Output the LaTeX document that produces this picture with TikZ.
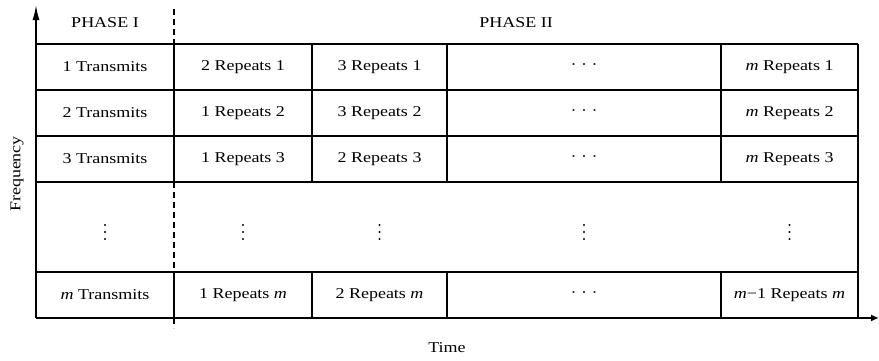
\documentclass[tikz,border=0pt]{standalone}
\usepackage{fontspec}
\setmainfont[FakeStretch=1.2]{Liberation Serif}
\usetikzlibrary{arrows.meta}
\newcommand{\mi}{\textit{m}}
\newcommand{\hd}{·~·~·}
\begin{document}
\begin{tikzpicture}[x=1pt,y=1pt,
  cell/.style={font=\fontsize{15}{18}\selectfont, inner sep=0pt, anchor=center},
  grid/.style={line width=1.1pt},
  axis/.style={line width=1.6pt},
  phase/.style={line width=1.6pt, dash pattern=on 6pt off 4pt}]
\useasboundingbox (0,0) rectangle (879,360);
% boundaries: x 36,174,312,447,721,858 ; y 316,270,224,178,88,42
\coordinate (o) at (36,42);
\coordinate (ytip) at (36,355);
\coordinate (xtip) at (879,42);
% grid
\draw[grid] (36,316) -- (858,316);
\draw[grid] (36,270) -- (858,270);
\draw[grid] (36,224) -- (858,224);
\draw[grid] (36,178) -- (858,178);
\draw[grid] (36,88) -- (858,88);
\draw[grid] (858,42) -- (858,316);
\foreach \x in {312,447,721}{
  \draw[grid] (\x,316) -- (\x,178);
  \draw[grid] (\x,88) -- (\x,42);
}
\draw[grid] (174,316) -- (174,178);
\draw[grid] (174,88) -- (174,42);
\draw[phase] (174,351) -- (174,316);
\draw[phase] (174,178) -- (174,88);
\draw[phase] (174,42) -- (174,32);
% axes
\draw[axis, -{Latex[length=15pt,width=7pt]}] (o) -- (ytip);
\draw[axis, -{Latex[length=8pt,width=7pt]}] (o) -- (xtip);
% headers
\node[cell] (p1) at (105,337) {PHASE I};
\node[cell] (p2) at (516,337) {PHASE II};
\node[cell, rotate=90] (freq) at (17,186) {Frequency};
\node[cell] (time) at (447,12) {Time};
% row 1
\node[cell] (a1) at (105,293) {1 Transmits};
\node[cell] (b1) at (243,293) {2 Repeats 1};
\node[cell] (c1) at (379.5,293) {3 Repeats 1};
\node[cell] (d1) at (584,293) {\hd};
\node[cell] (e1) at (789.5,293) {\mi{} Repeats 1};
% row 2
\node[cell] (a2) at (105,247) {2 Transmits};
\node[cell] (b2) at (243,247) {1 Repeats 2};
\node[cell] (c2) at (379.5,247) {3 Repeats 2};
\node[cell] (d2) at (584,247) {\hd};
\node[cell] (e2) at (789.5,247) {\mi{} Repeats 2};
% row 3
\node[cell] (a3) at (105,201) {3 Transmits};
\node[cell] (b3) at (243,201) {1 Repeats 3};
\node[cell] (c3) at (379.5,201) {2 Repeats 3};
\node[cell] (d3) at (584,201) {\hd};
\node[cell] (e3) at (789.5,201) {\mi{} Repeats 3};
% dots row (vertical ellipses)
\coordinate (a4) at (105,128);
\coordinate (b4) at (243,128);
\coordinate (c4) at (379.5,128);
\coordinate (d4) at (584,128);
\coordinate (e4) at (789.5,128);
\foreach \n in {a4,b4,c4,d4,e4}{
  \foreach \dy in {-7,0,7}{
    \fill ([yshift=\dy pt]\n) circle (1.1pt);
  }
}
% row m
\node[cell] (a5) at (105,65) {\mi{} Transmits};
\node[cell] (b5) at (243,65) {1 Repeats \mi};
\node[cell] (c5) at (379.5,65) {2 Repeats \mi};
\node[cell] (d5) at (584,65) {\hd};
\node[cell] (e5) at (789.5,65) {\mi{}−1 Repeats \mi};
\end{tikzpicture}
\end{document}
